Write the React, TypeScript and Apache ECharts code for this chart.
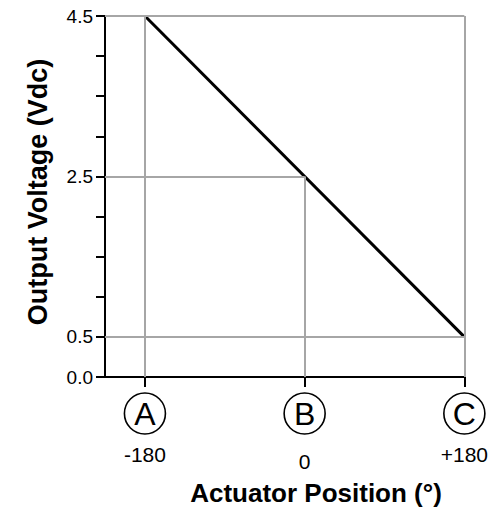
import React, { useEffect, useRef } from "react";
import * as echarts from "echarts";

const xTicks = [-180, 0, 180];
const xLetters = ["A", "B", "C"];
const xTickLabels = ["-180", "0", "+180"];
const yTickValues = [0, 0.5, 1, 1.5, 2, 2.5, 3, 3.5, 4, 4.5];
const yLabelValues = [0, 0.5, 2.5, 4.5];
const lineX = [-180, 180];
const lineY = [4.5, 0.5];
// vertical reference lines: [x, topY]
const refVertical = [
  [-180, 4.5],
  [0, 2.5],
  [180, 4.5],
];
// horizontal reference lines: [y, rightX]
const refHorizontal = [
  [4.5, 180],
  [2.5, 0],
  [0.5, 180],
];
const xMin = -225;
const xMax = 180;
const yMin = 0;
const yMax = 4.5;
const xTitle = "Actuator Position (°)";
const yTitle = "Output Voltage (Vdc)";

export default function App() {
  const ref = useRef<HTMLDivElement>(null);
  useEffect(() => {
    if (!ref.current) return;
    const chart = echarts.init(ref.current, null, { renderer: "svg" });
    const font = "Liberation Sans, Arial, sans-serif";
    const markData: any[] = [];
    refVertical.forEach(([x, top]) => {
      markData.push([{ coord: [x, yMin] }, { coord: [x, top] }]);
    });
    refHorizontal.forEach(([y, right]) => {
      markData.push([{ coord: [xMin, y] }, { coord: [right, y] }]);
    });
    chart.setOption({
      animation: false,
      grid: { left: 105, right: 26, top: 16, bottom: 131 },
      xAxis: {
        type: "value",
        min: xMin,
        max: xMax,
        interval: 45,
        splitLine: { show: false },
        axisLine: { show: true, onZero: false, lineStyle: { color: "#000", width: 2 } },
        axisTick: {
          show: true,
          customValues: xTicks,
          length: 10,
          lineStyle: { color: "#000", width: 2 },
        },
        axisLabel: {
          show: true,
          customValues: xTicks,
          margin: 16,
          formatter: (v: number) => {
            const i = xTicks.indexOf(v);
            if (i < 0) return "";
            const st = v === 0 ? "z" : "v";
            return `{c|${xLetters[i]}}\n{${st}|${xTickLabels[i]}}`;
          },
          rich: {
            c: {
              fontFamily: font,
              fontSize: 32,
              color: "#000",
              width: 41,
              height: 41,
              lineHeight: 41,
              align: "center",
              borderColor: "#000",
              borderWidth: 1.6,
              borderRadius: 21,
            },
            v: {
              fontFamily: font,
              fontSize: 21,
              color: "#000",
              lineHeight: 40,
              align: "center",
            },
            z: {
              fontFamily: font,
              fontSize: 21,
              color: "#000",
              lineHeight: 54,
              align: "center",
            },
          },
        },
      },
      yAxis: {
        type: "value",
        min: yMin,
        max: yMax,
        interval: 0.5,
        splitLine: { show: false },
        axisLine: { show: true, onZero: false, lineStyle: { color: "#000", width: 2 } },
        axisTick: {
          show: true,
          customValues: yTickValues,
          length: 9,
          lineStyle: { color: "#000", width: 2 },
        },
        axisLabel: {
          show: true,
          customValues: yLabelValues,
          margin: 12,
          fontFamily: font,
          fontSize: 19,
          color: "#000",
          formatter: (v: number) => v.toFixed(1),
        },
      },
      graphic: [
        {
          type: "text",
          x: 316,
          y: 493,
          style: {
            text: xTitle,
            font: `bold 26px ${font}`,
            fill: "#000",
            align: "center",
            verticalAlign: "middle",
          },
        },
        {
          type: "text",
          x: 38,
          y: 192,
          rotation: Math.PI / 2,
          style: {
            text: yTitle,
            font: `bold 27px ${font}`,
            fill: "#000",
            align: "center",
            verticalAlign: "middle",
          },
        },
      ],
      series: [
        {
          type: "line",
          data: [],
          z: 1,
          markLine: {
            silent: true,
            symbol: ["none", "none"],
            label: { show: false },
            lineStyle: { color: "#a6a6a6", width: 2, type: "solid" },
            data: markData,
          },
        },
        {
          type: "line",
          z: 3,
          data: lineX.map((x, i) => [x, lineY[i]]),
          symbol: "none",
          lineStyle: { color: "#000", width: 3 },
        },
      ],
    });
    return () => chart.dispose();
  }, []);
  return <div ref={ref} style={{ width: 491, height: 508, position: "absolute", left: 0, top: 0 }} />;
}
